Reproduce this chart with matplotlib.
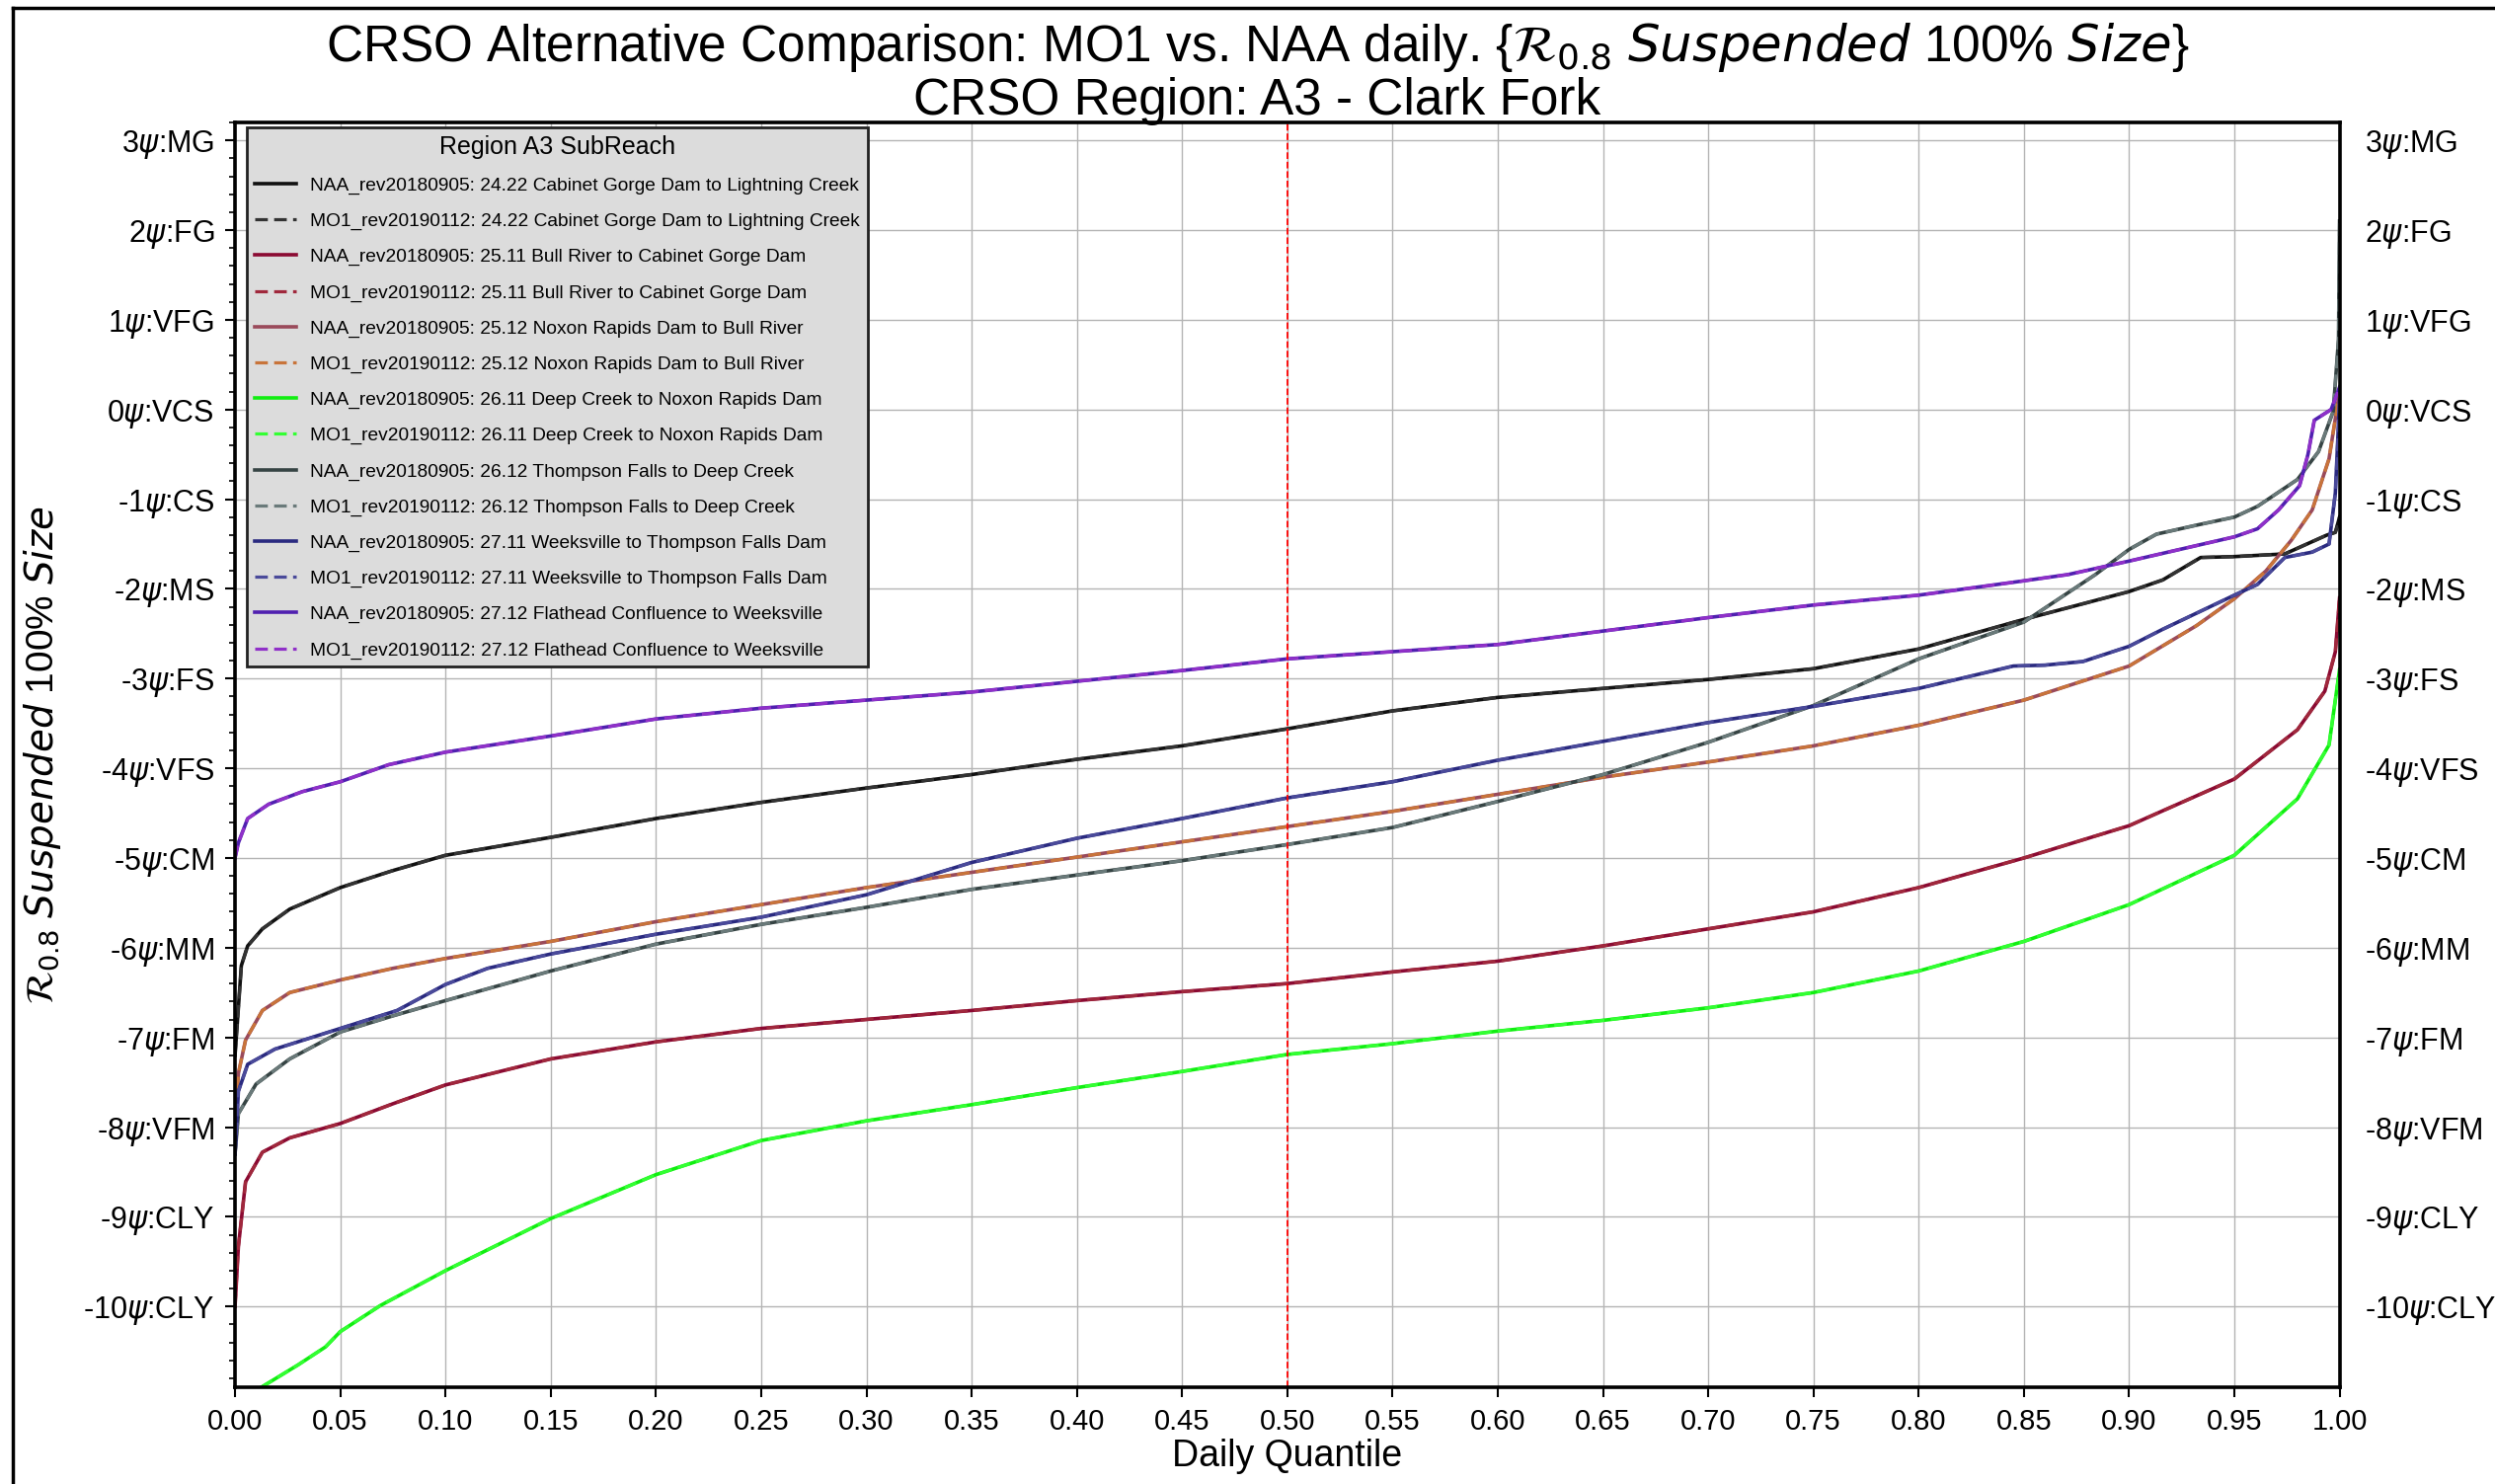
import matplotlib

matplotlib.use("Agg")

import matplotlib.pyplot as plt
from matplotlib.lines import Line2D
from matplotlib.ticker import MultipleLocator

plt.rcParams["font.family"] = ["Liberation Sans", "DejaVu Sans"]
plt.rcParams["mathtext.fontset"] = "dejavusans"

# ---- data ----
subreaches = [
    "24.22 Cabinet Gorge Dam to Lightning Creek",
    "25.11 Bull River to Cabinet Gorge Dam",
    "25.12 Noxon Rapids Dam to Bull River",
    "26.11 Deep Creek to Noxon Rapids Dam",
    "26.12 Thompson Falls to Deep Creek",
    "27.11 Weeksville to Thompson Falls Dam",
    "27.12 Flathead Confluence to Weeksville",
]

x_2422 = [0.0, 0.003, 0.006, 0.013, 0.026, 0.05, 0.075, 0.10, 0.15, 0.20, 0.25, 0.30, 0.35, 0.40, 0.45, 0.50,
          0.55, 0.60, 0.65, 0.70, 0.75, 0.80, 0.85, 0.90, 0.916, 0.934, 0.95, 0.974, 0.994, 0.998, 1.0]
y_2422 = [-7.2, -6.2, -5.98, -5.79, -5.57, -5.33, -5.14, -4.97, -4.77, -4.56, -4.38, -4.22, -4.07, -3.90, -3.75,
          -3.56, -3.36, -3.21, -3.11, -3.01, -2.89, -2.67, -2.34, -2.03, -1.90, -1.65, -1.64, -1.61, -1.40, -1.37,
          -1.2]

x_2511 = [0.0, 0.0016, 0.005, 0.013, 0.026, 0.05, 0.075, 0.10, 0.15, 0.20, 0.25, 0.30, 0.35, 0.40, 0.45, 0.50,
          0.55, 0.60, 0.65, 0.70, 0.75, 0.80, 0.85, 0.90, 0.95, 0.98, 0.993, 0.998, 1.0]
y_2511 = [-10.0, -9.33, -8.61, -8.28, -8.12, -7.96, -7.74, -7.53, -7.24, -7.05, -6.90, -6.80, -6.70, -6.59, -6.49,
          -6.40, -6.27, -6.15, -5.98, -5.79, -5.60, -5.33, -5.00, -4.64, -4.12, -3.57, -3.14, -2.70, -2.1]

x_2512 = [0.0, 0.0016, 0.005, 0.013, 0.026, 0.05, 0.075, 0.10, 0.15, 0.20, 0.25, 0.30, 0.35, 0.40, 0.45, 0.50,
          0.55, 0.60, 0.65, 0.70, 0.75, 0.80, 0.85, 0.90, 0.932, 0.95, 0.965, 0.977, 0.987, 0.995, 1.0]
y_2512 = [-8.0, -7.4, -7.03, -6.70, -6.50, -6.36, -6.23, -6.12, -5.93, -5.71, -5.52, -5.33, -5.16, -4.99, -4.82,
          -4.65, -4.48, -4.29, -4.10, -3.93, -3.75, -3.52, -3.24, -2.86, -2.41, -2.11, -1.80, -1.46, -1.12, -0.55,
          0.2]

x_2611 = [0.0125, 0.030, 0.043, 0.05, 0.069, 0.10, 0.15, 0.20, 0.25, 0.30, 0.35, 0.40, 0.45, 0.50,
          0.55, 0.60, 0.65, 0.70, 0.75, 0.80, 0.85, 0.90, 0.95, 0.98, 0.995, 1.0]
y_2611 = [-10.9, -10.65, -10.45, -10.28, -9.99, -9.60, -9.02, -8.53, -8.15, -7.93, -7.75, -7.56, -7.38, -7.19,
          -7.07, -6.93, -6.81, -6.67, -6.50, -6.26, -5.93, -5.52, -4.97, -4.34, -3.74, -2.9]

x_2612 = [0.0, 0.0016, 0.01, 0.026, 0.05, 0.075, 0.10, 0.15, 0.20, 0.25, 0.30, 0.35, 0.40, 0.45, 0.50,
          0.55, 0.60, 0.65, 0.70, 0.75, 0.80, 0.85, 0.884, 0.90, 0.913, 0.932, 0.95, 0.961, 0.98, 0.99,
          0.997, 0.9995, 1.0]
y_2612 = [-8.3, -7.85, -7.52, -7.24, -6.94, -6.76, -6.59, -6.26, -5.96, -5.74, -5.55, -5.35, -5.19, -5.03, -4.85,
          -4.66, -4.37, -4.07, -3.71, -3.30, -2.78, -2.37, -1.84, -1.56, -1.39, -1.29, -1.20, -1.08, -0.78, -0.47,
          -0.02, 0.78, 2.1]

x_2711 = [0.0, 0.0016, 0.006, 0.019, 0.05, 0.077, 0.10, 0.12, 0.15, 0.20, 0.25, 0.30, 0.35, 0.40, 0.45, 0.50,
          0.55, 0.60, 0.65, 0.70, 0.75, 0.80, 0.845, 0.86, 0.878, 0.90, 0.916, 0.95, 0.961, 0.974, 0.987,
          0.995, 0.998, 1.0]
y_2711 = [-8.3, -7.6, -7.30, -7.13, -6.90, -6.70, -6.41, -6.23, -6.07, -5.85, -5.66, -5.41, -5.05, -4.78, -4.56,
          -4.33, -4.15, -3.91, -3.70, -3.49, -3.31, -3.11, -2.86, -2.85, -2.81, -2.64, -2.45, -2.07, -1.95,
          -1.65, -1.59, -1.50, -0.93, 0.1]

x_2712 = [0.0, 0.0016, 0.006, 0.016, 0.032, 0.05, 0.073, 0.10, 0.15, 0.20, 0.25, 0.30, 0.35, 0.40, 0.45, 0.50,
          0.55, 0.60, 0.65, 0.70, 0.75, 0.80, 0.85, 0.871, 0.90, 0.95, 0.961, 0.971, 0.981, 0.985, 0.988,
          0.992, 0.996, 1.0]
y_2712 = [-5.0, -4.83, -4.56, -4.40, -4.26, -4.15, -3.96, -3.82, -3.64, -3.45, -3.33, -3.24, -3.15, -3.03, -2.91,
          -2.78, -2.70, -2.62, -2.47, -2.32, -2.18, -2.07, -1.91, -1.84, -1.69, -1.42, -1.33, -1.12, -0.85, -0.5,
          -0.12, -0.06, 0.0, 0.25]

# MO1 and NAA curves overlap everywhere in the reference, so both use the same readings
curves = [(x_2422, y_2422), (x_2511, y_2511), (x_2512, y_2512), (x_2611, y_2611),
          (x_2612, y_2612), (x_2711, y_2711), (x_2712, y_2712)]

naa_colors = ["#111111", "#8b0a32", "#9a4a5a", "#11ee11", "#364444", "#2a2a80", "#5020b0"]
mo1_colors = ["#333333", "#a0283c", "#c8743a", "#33ff33", "#6a7a7a", "#4a4a9a", "#9030c8"]

psi_values = [3, 2, 1, 0, -1, -2, -3, -4, -5, -6, -7, -8, -9, -10]
psi_names = ["MG", "FG", "VFG", "VCS", "CS", "MS", "FS", "VFS", "CM", "MM", "FM", "VFM", "CLY", "CLY"]
psi_labels = [f"{v}$\\psi$:{n}" for v, n in zip(psi_values, psi_names)]

x_ticks = [i * 0.05 for i in range(21)]

# ---- figure ----
fig = plt.figure(figsize=(25.27, 15.03), dpi=100)
ax = fig.add_axes([0.0942, 0.0652, 0.8435, 0.8523])

for name, (xs, ys), c_naa, c_mo1 in zip(subreaches, curves, naa_colors, mo1_colors):
    ax.plot(xs, ys, color=c_naa, linewidth=2.6, label=f"NAA_rev20180905: {name}")
    ax.plot(xs, ys, color=c_mo1, linewidth=2.3, linestyle=(0, (4, 2)),
            label=f"MO1_rev20190112: {name}")

ax.axvline(0.5, color="red", linestyle="--", linewidth=1.3)

ax.set_xlim(0, 1)
ax.set_ylim(-10.9, 3.2)
ax.set_xticks(x_ticks)
ax.set_xticklabels([f"{t:.2f}" for t in x_ticks])
ax.set_yticks(psi_values)
ax.set_yticklabels(psi_labels)
ax.yaxis.set_minor_locator(MultipleLocator(0.2))
ax.grid(True, which="major", color="#b4b4b4", linewidth=1.0)

ax.tick_params(axis="both", which="major", direction="out", length=7, width=1.5, labelsize=22, pad=8)
ax.tick_params(axis="x", labelsize=21)
ax.tick_params(axis="y", which="minor", direction="out", length=4, width=1.2)
for s in ax.spines.values():
    s.set_linewidth(2.6)

ax2 = ax.twinx()
ax2.set_ylim(ax.get_ylim())
ax2.set_yticks(psi_values)
ax2.set_yticklabels(psi_labels)
ax2.tick_params(axis="y", length=0, labelsize=22, pad=18)
for s in ax2.spines.values():
    s.set_visible(False)

ax.set_xlabel("Daily Quantile", fontsize=27, labelpad=2)
ax.set_ylabel(r"$\mathcal{R}_{0.8}$ $\mathit{Suspended}$ 100% $\mathit{Size}$", fontsize=28, labelpad=14)

fig.text(0.504, 0.968,
         r"CRSO Alternative Comparison: MO1 vs. NAA daily. {$\mathcal{R}_{0.8}$ $\mathit{Suspended}$ 100% $\mathit{Size}$}",
         ha="center", va="center", fontsize=37)
fig.text(0.504, 0.932, "CRSO Region: A3 - Clark Fork", ha="center", va="center", fontsize=37)

leg = ax.legend(title="Region A3 SubReach", loc="upper left", bbox_to_anchor=(0.0056, 0.996),
                borderaxespad=0, fontsize=13.8, title_fontsize=18, labelspacing=0.97,
                handlelength=2.2, handletextpad=0.75, borderpad=0.4, fancybox=False,
                framealpha=1.0)
leg.get_frame().set_facecolor("#dcdcdc")
leg.get_frame().set_edgecolor("#222222")
leg.get_frame().set_linewidth(2.0)

# outer frame on the top and left of the figure
fig.add_artist(Line2D([0.0051, 1.0], [0.9947, 0.9947], color="black", linewidth=2.5))
fig.add_artist(Line2D([0.0051, 0.0051], [0.0, 0.9947], color="black", linewidth=2.5))

fig.savefig("out.png", dpi=100)
plt.close(fig)
